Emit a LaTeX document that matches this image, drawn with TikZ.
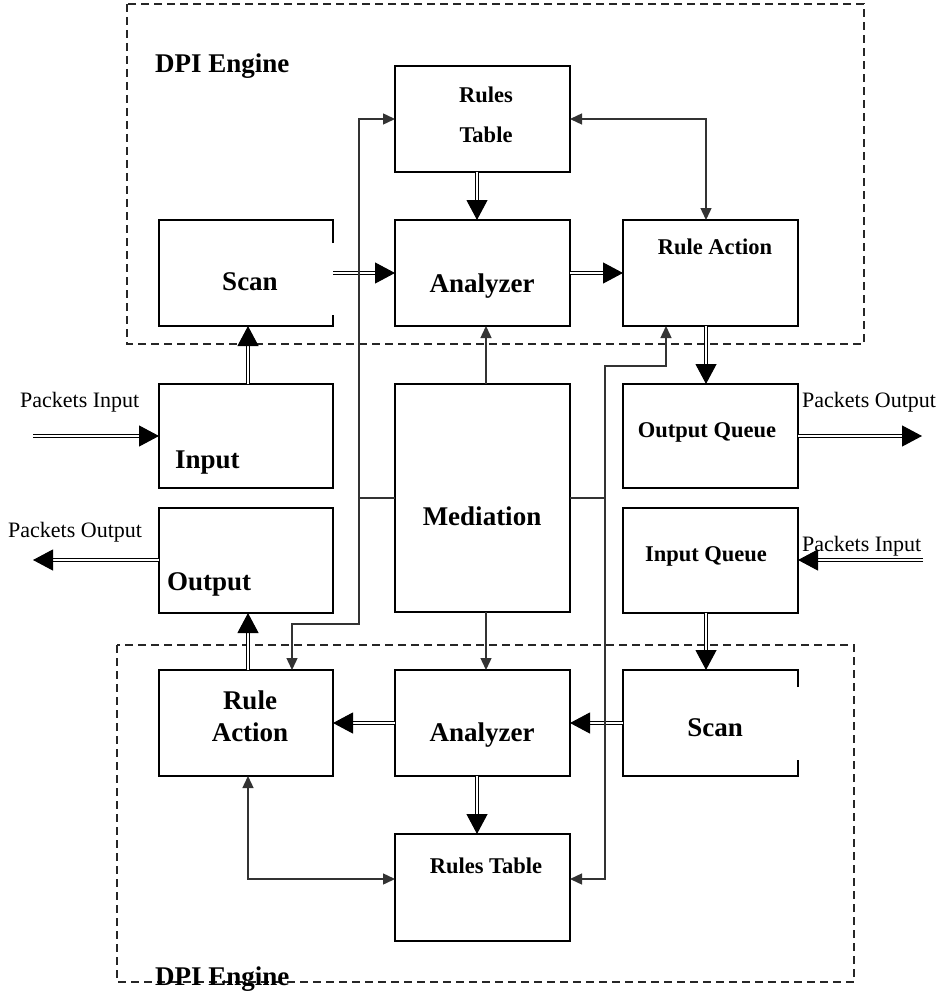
\documentclass[tikz,border=0pt]{standalone}
\usepackage{fontspec}
\setmainfont{Liberation Serif}
\usetikzlibrary{arrows.meta,calc}

\tikzset{
  blk/.style={draw, line width=1.5pt, inner sep=0pt, outer sep=0pt},
  openblk/.style={draw=none, inner sep=0pt, outer sep=0pt},
  big/.style={font=\fontsize{27}{30}\selectfont\bfseries, inner sep=0pt, anchor=base},
  mid/.style={font=\fontsize{22.5}{26}\selectfont\bfseries, inner sep=0pt, anchor=base},
  lbl/.style={font=\fontsize{22}{26}\selectfont, inner sep=0pt, anchor=base west},
  engine/.style={draw=black!85, line width=1.5pt, dash pattern=on 8pt off 5pt},
  flow/.style={draw=black, double=white, double distance=2.2pt, line width=1.1pt,
               -{Triangle[length=20pt,width=21pt]}},
  link/.style={draw=black!80, line width=1.4pt},
  tip/.style={-{Triangle[length=12pt,width=11pt]}},
  tips/.style={{Triangle[length=12pt,width=11pt]}-{Triangle[length=12pt,width=11pt]}},
}

\begin{document}
\begin{tikzpicture}[x=1pt,y=-1pt]
\useasboundingbox (0,0) rectangle (946,995);

% engine frames
\draw[engine] (127,4) rectangle (864,344);
\draw[engine] (117,645) rectangle (854,982);

% upper engine blocks
\node[blk, minimum width=175pt, minimum height=106pt] (rtT) at (482.5,119) {};
\node[openblk, minimum width=174pt, minimum height=106pt] (scanT) at (246,273) {};
\node[blk, minimum width=175pt, minimum height=106pt] (anT) at (482.5,273) {};
\node[blk, minimum width=175pt, minimum height=106pt] (raT) at (710.5,273) {};

% middle row
\node[blk, minimum width=174pt, minimum height=104pt] (inp) at (246,436) {};
\node[blk, minimum width=174pt, minimum height=105pt] (outp) at (246,560.5) {};
\node[blk, minimum width=175pt, minimum height=228pt] (med) at (482.5,498) {};
\node[blk, minimum width=175pt, minimum height=104pt] (oq) at (710.5,436) {};
\node[blk, minimum width=175pt, minimum height=105pt] (iq) at (710.5,560.5) {};

% lower engine blocks
\node[blk, minimum width=174pt, minimum height=106pt] (raB) at (246,723) {};
\node[blk, minimum width=175pt, minimum height=106pt] (anB) at (482.5,723) {};
\node[openblk, minimum width=175pt, minimum height=106pt] (scanB) at (710.5,723) {};
\node[blk, minimum width=175pt, minimum height=107pt] (rtB) at (482.5,887.5) {};

% scan blocks, open on the right side
\draw[line width=1.5pt] ([yshift=-23pt]scanT.north east) -- (scanT.north east) -- (scanT.north west)
  -- (scanT.south west) -- (scanT.south east) -- ([yshift=11pt]scanT.south east);
\draw[line width=1.5pt] ([yshift=-17pt]scanB.north east) -- (scanB.north east) -- (scanB.north west)
  -- (scanB.south west) -- (scanB.south east) -- ([yshift=16pt]scanB.south east);

% texts
\node[lbl, font=\fontsize{27}{30}\selectfont\bfseries] (engT) at (155,73) {DPI Engine};
\node[lbl, font=\fontsize{27}{30}\selectfont\bfseries] (engB) at (155,985) {DPI Engine};
\node[mid] (tRules) at (486,103) {Rules};
\node[mid] (tTable) at (486,143) {Table};
\node[big] (tScanT) at (250,290) {Scan};
\node[big] (tAnT) at (482,292) {Analyzer};
\node[mid] (tRaT) at (715,254) {Rule Action};
\node[big, anchor=base west] (tInp) at (175,468) {Input};
\node[big, anchor=base west] (tOutp) at (167,590) {Output};
\node[big] (tMed) at (482,525) {Mediation};
\node[mid] (tOq) at (707,437) {Output Queue};
\node[mid] (tIq) at (706,561) {Input Queue};
\node[big] (tRaB1) at (250,709) {Rule};
\node[big] (tRaB2) at (250,741) {Action};
\node[big] (tAnB) at (482,741) {Analyzer};
\node[big] (tScanB) at (715,736) {Scan};
\node[mid] (tRtB) at (486,873) {Rules Table};
\node[lbl] (pinLt) at (20,407) {Packets Input};
\node[lbl] (poutLt) at (8,537) {Packets Output};
\node[lbl] (poutRt) at (802,407) {Packets Output};
\node[lbl] (pinRt) at (802,551) {Packets Input};

% helper coordinates for connector columns and rows
\coordinate (x248) at (248,0);
\coordinate (x477) at (477,0);
\coordinate (x486) at (486,0);
\coordinate (x706) at (706,0);
\coordinate (x666) at (666,0);
\coordinate (x292) at (292,0);
\coordinate (jL) at (359,498);
\coordinate (kL) at (359,624);
\coordinate (jR) at (605,498);
\coordinate (kR) at (605,366);
\coordinate (mR) at (605,879);
\coordinate (pinL) at (33,436);
\coordinate (poutL) at (33,560);
\coordinate (poutR) at (922,436);
\coordinate (pinR) at (923,560);

% packet flow (double arrows)
\draw[flow] (rtT.south -| x477) -- (anT.north -| x477);
\draw[flow] (scanT.east) -- (anT.west);
\draw[flow] (anT.east) -- (raT.west);
\draw[flow] (inp.north -| x248) -- (scanT.south -| x248);
\draw[flow] (raT.south -| x706) -- (oq.north -| x706);
\draw[flow] (iq.south -| x706) -- (scanB.north -| x706);
\draw[flow] (raB.north -| x248) -- (outp.south -| x248);
\draw[flow] (scanB.west) -- (anB.east);
\draw[flow] (anB.west) -- (raB.east);
\draw[flow] (anB.south -| x477) -- (rtB.north -| x477);
\draw[flow] (pinL) -- (inp.west);
\draw[flow] (outp.west |- poutL) -- (poutL);
\draw[flow] (oq.east) -- (poutR);
\draw[flow] (pinR) -- (iq.east |- pinR);

% control links
\draw[link, tips] (raT.north -| x706) |- (rtT.east);
\draw[link, tips] (raB.south -| x248) |- (rtB.west |- mR);
\draw[link, tip] (med.north -| x486) -- (anT.south -| x486);
\draw[link, tip] (med.south -| x486) -- (anB.north -| x486);
\draw[link] (med.west) -- (jL);
\draw[link, tip] (jL) |- (rtT.west);
\draw[link, tip] (jL) -- (kL) -| (raB.north -| x292);
\draw[link] (med.east) -- (jR);
\draw[link, tip] (jR) -- (kR) -| (raT.south -| x666);
\draw[link, tip] (jR) -- (mR) -- (rtB.east |- mR);
\end{tikzpicture}
\end{document}
